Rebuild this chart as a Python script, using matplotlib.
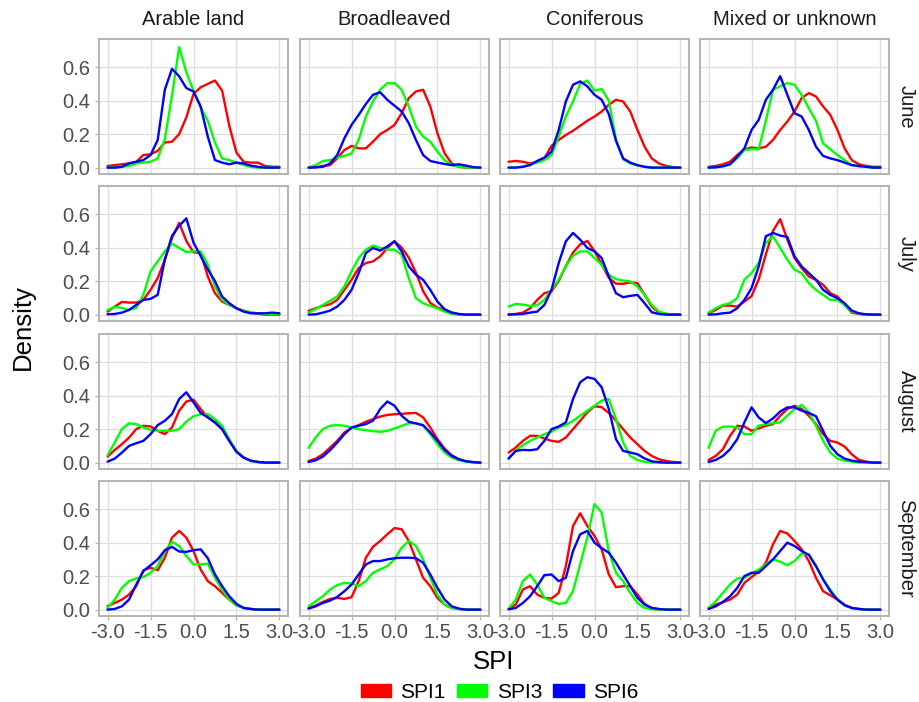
import numpy as np
import matplotlib
matplotlib.use("Agg")
import matplotlib.pyplot as plt
from matplotlib.patches import Patch

plt.rcParams['font.family'] = ['Liberation Sans', 'DejaVu Sans']

# SPI grid on which the densities were read (-3.0 .. 3.0, step 0.25)
spi_x = np.linspace(-3.0, 3.0, 25)

covers = ["Arable land", "Broadleaved", "Coniferous", "Mixed or unknown"]
months = ["June", "July", "August", "September"]
series = ["SPI1", "SPI3", "SPI6"]
colors = ["#ff0000", "#00ff00", "#0000ff"]

# each panel: [SPI1, SPI3, SPI6]
june_arable = [
    [0.01, 0.015, 0.02, 0.025, 0.035, 0.075, 0.08, 0.1, 0.15, 0.155, 0.2, 0.3, 0.44, 0.48, 0.5, 0.52, 0.46, 0.25, 0.09, 0.035, 0.03, 0.03, 0.01, 0.005, 0.005],
    [0.0, 0.002, 0.005, 0.01, 0.025, 0.03, 0.035, 0.055, 0.17, 0.43, 0.72, 0.57, 0.46, 0.36, 0.28, 0.15, 0.055, 0.045, 0.03, 0.015, 0.005, 0, 0, 0, 0],
    [0, 0, 0.005, 0.025, 0.035, 0.045, 0.075, 0.165, 0.466, 0.59, 0.545, 0.475, 0.455, 0.365, 0.185, 0.045, 0.03, 0.02, 0.03, 0.025, 0.012, 0.005, 0, 0, 0],
]
june_broad = [
    [0, 0.002, 0.01, 0.015, 0.055, 0.105, 0.13, 0.115, 0.115, 0.155, 0.2, 0.225, 0.255, 0.325, 0.415, 0.455, 0.465, 0.365, 0.205, 0.085, 0.025, 0.005, 0, 0, 0],
    [0, 0.015, 0.04, 0.045, 0.06, 0.07, 0.085, 0.165, 0.305, 0.395, 0.465, 0.505, 0.505, 0.465, 0.365, 0.245, 0.185, 0.155, 0.095, 0.045, 0.015, 0.005, 0, 0, 0],
    [0, 0.002, 0.005, 0.025, 0.075, 0.175, 0.255, 0.315, 0.38, 0.435, 0.45, 0.405, 0.37, 0.335, 0.265, 0.165, 0.075, 0.04, 0.03, 0.022, 0.015, 0.02, 0.012, 0.003, 0],
]
june_conif = [
    [0.035, 0.04, 0.035, 0.025, 0.035, 0.055, 0.13, 0.165, 0.195, 0.22, 0.25, 0.28, 0.305, 0.335, 0.375, 0.405, 0.395, 0.335, 0.225, 0.125, 0.055, 0.025, 0.01, 0.003, 0],
    [0, 0.002, 0.005, 0.02, 0.03, 0.045, 0.075, 0.185, 0.305, 0.395, 0.5, 0.52, 0.46, 0.47, 0.40, 0.17, 0.05, 0.025, 0.012, 0.005, 0, 0, 0, 0, 0],
    [0, 0, 0.005, 0.015, 0.04, 0.06, 0.095, 0.225, 0.395, 0.495, 0.515, 0.485, 0.435, 0.405, 0.32, 0.16, 0.055, 0.03, 0.015, 0.005, 0, 0, 0, 0, 0],
]
june_mixed = [
    [0.005, 0.01, 0.02, 0.035, 0.075, 0.11, 0.12, 0.115, 0.125, 0.165, 0.225, 0.275, 0.335, 0.415, 0.445, 0.425, 0.365, 0.315, 0.225, 0.115, 0.045, 0.02, 0.01, 0.005, 0.005],
    [0, 0.002, 0.01, 0.02, 0.055, 0.105, 0.11, 0.11, 0.28, 0.465, 0.485, 0.505, 0.495, 0.435, 0.355, 0.28, 0.145, 0.11, 0.075, 0.045, 0.015, 0.008, 0.005, 0, 0],
    [0, 0.002, 0.008, 0.02, 0.065, 0.115, 0.225, 0.285, 0.405, 0.465, 0.546, 0.435, 0.325, 0.305, 0.225, 0.125, 0.07, 0.055, 0.045, 0.03, 0.015, 0.01, 0.005, 0, 0],
]

july_arable = [
    [0.018, 0.048, 0.076, 0.072, 0.072, 0.088, 0.148, 0.218, 0.328, 0.458, 0.548, 0.44, 0.372, 0.368, 0.228, 0.128, 0.078, 0.058, 0.038, 0.024, 0.012, 0.005, 0, 0, 0],
    [0.028, 0.046, 0.04, 0.028, 0.04, 0.118, 0.258, 0.318, 0.378, 0.424, 0.398, 0.374, 0.378, 0.378, 0.3, 0.168, 0.088, 0.058, 0.038, 0.022, 0.014, 0.008, 0.004, 0.003, 0.003],
    [0.002, 0.004, 0.012, 0.028, 0.058, 0.088, 0.094, 0.118, 0.33, 0.47, 0.53, 0.575, 0.43, 0.35, 0.27, 0.2, 0.108, 0.068, 0.038, 0.018, 0.008, 0.008, 0.008, 0.012, 0.008],
]
july_broad = [
    [0.022, 0.038, 0.052, 0.062, 0.088, 0.148, 0.208, 0.278, 0.308, 0.318, 0.348, 0.398, 0.438, 0.4, 0.34, 0.25, 0.14, 0.07, 0.042, 0.028, 0.012, 0.002, 0, 0, 0],
    [0.012, 0.034, 0.058, 0.082, 0.108, 0.168, 0.258, 0.338, 0.388, 0.412, 0.398, 0.388, 0.388, 0.358, 0.218, 0.098, 0.068, 0.052, 0.038, 0.018, 0.004, 0, 0, 0, 0],
    [0, 0.002, 0.012, 0.024, 0.048, 0.088, 0.148, 0.248, 0.368, 0.398, 0.382, 0.408, 0.438, 0.378, 0.288, 0.238, 0.208, 0.148, 0.078, 0.032, 0.012, 0.004, 0, 0, 0],
]
july_conif = [
    [0.002, 0.004, 0.012, 0.038, 0.088, 0.128, 0.14, 0.2, 0.29, 0.37, 0.42, 0.44, 0.38, 0.3, 0.22, 0.185, 0.184, 0.192, 0.188, 0.118, 0.048, 0.012, 0.004, 0, 0],
    [0.048, 0.064, 0.06, 0.052, 0.056, 0.088, 0.148, 0.208, 0.288, 0.352, 0.378, 0.378, 0.338, 0.298, 0.238, 0.212, 0.204, 0.198, 0.168, 0.118, 0.058, 0.018, 0.006, 0, 0],
    [0, 0.002, 0.004, 0.012, 0.018, 0.058, 0.148, 0.308, 0.438, 0.488, 0.448, 0.398, 0.378, 0.338, 0.228, 0.128, 0.104, 0.112, 0.118, 0.068, 0.014, 0.004, 0, 0, 0],
]
july_mixed = [
    [0.008, 0.028, 0.054, 0.054, 0.048, 0.078, 0.11, 0.21, 0.36, 0.5, 0.57, 0.448, 0.338, 0.278, 0.228, 0.208, 0.178, 0.128, 0.108, 0.058, 0.012, 0.004, 0, 0, 0],
    [0.012, 0.038, 0.058, 0.068, 0.098, 0.208, 0.248, 0.308, 0.428, 0.468, 0.398, 0.328, 0.268, 0.248, 0.188, 0.148, 0.118, 0.088, 0.088, 0.058, 0.018, 0.006, 0, 0, 0],
    [0, 0.002, 0.008, 0.012, 0.038, 0.088, 0.158, 0.288, 0.468, 0.488, 0.472, 0.464, 0.348, 0.288, 0.248, 0.208, 0.148, 0.118, 0.098, 0.068, 0.024, 0.008, 0.002, 0, 0],
]

august_arable = [
    [0.036, 0.076, 0.11, 0.15, 0.2, 0.22, 0.216, 0.19, 0.17, 0.21, 0.31, 0.365, 0.376, 0.32, 0.27, 0.24, 0.2, 0.13, 0.07, 0.03, 0.01, 0.004, 0, 0, 0],
    [0.044, 0.12, 0.2, 0.235, 0.23, 0.21, 0.196, 0.19, 0.19, 0.19, 0.2, 0.245, 0.277, 0.289, 0.29, 0.26, 0.22, 0.14, 0.07, 0.03, 0.01, 0.004, 0, 0, 0],
    [0.006, 0.024, 0.06, 0.1, 0.116, 0.13, 0.17, 0.224, 0.25, 0.29, 0.38, 0.42, 0.36, 0.297, 0.27, 0.24, 0.2, 0.13, 0.064, 0.03, 0.012, 0.004, 0, 0, 0],
]
august_broad = [
    [0.01, 0.024, 0.05, 0.09, 0.13, 0.18, 0.206, 0.224, 0.244, 0.26, 0.275, 0.285, 0.289, 0.291, 0.295, 0.297, 0.27, 0.21, 0.14, 0.084, 0.044, 0.02, 0.008, 0.003, 0],
    [0.088, 0.15, 0.2, 0.22, 0.224, 0.22, 0.21, 0.2, 0.194, 0.188, 0.184, 0.19, 0.204, 0.22, 0.235, 0.235, 0.22, 0.17, 0.11, 0.06, 0.03, 0.014, 0.006, 0.002, 0],
    [0.004, 0.014, 0.036, 0.074, 0.12, 0.17, 0.21, 0.22, 0.23, 0.25, 0.32, 0.365, 0.34, 0.28, 0.244, 0.234, 0.224, 0.18, 0.13, 0.076, 0.04, 0.02, 0.008, 0.003, 0],
]
august_conif = [
    [0.06, 0.09, 0.13, 0.16, 0.16, 0.144, 0.13, 0.124, 0.15, 0.2, 0.25, 0.3, 0.337, 0.331, 0.297, 0.25, 0.2, 0.15, 0.11, 0.07, 0.04, 0.02, 0.01, 0.004, 0.002],
    [0.026, 0.07, 0.104, 0.13, 0.15, 0.17, 0.184, 0.21, 0.224, 0.25, 0.28, 0.31, 0.34, 0.37, 0.38, 0.26, 0.12, 0.04, 0.015, 0.005, 0, 0, 0, 0, 0],
    [0.024, 0.07, 0.076, 0.074, 0.08, 0.13, 0.2, 0.216, 0.24, 0.38, 0.48, 0.51, 0.5, 0.45, 0.32, 0.14, 0.07, 0.06, 0.05, 0.025, 0.008, 0.003, 0, 0, 0],
]
august_mixed = [
    [0.016, 0.04, 0.08, 0.16, 0.22, 0.216, 0.19, 0.204, 0.22, 0.23, 0.28, 0.32, 0.34, 0.32, 0.28, 0.23, 0.17, 0.13, 0.12, 0.096, 0.05, 0.016, 0.006, 0, 0],
    [0.088, 0.19, 0.214, 0.216, 0.21, 0.17, 0.17, 0.22, 0.23, 0.236, 0.24, 0.28, 0.32, 0.345, 0.3, 0.22, 0.13, 0.06, 0.024, 0.012, 0.006, 0, 0, 0, 0],
    [0.004, 0.016, 0.04, 0.08, 0.14, 0.24, 0.33, 0.27, 0.236, 0.264, 0.305, 0.33, 0.33, 0.31, 0.297, 0.277, 0.19, 0.1, 0.05, 0.024, 0.012, 0.006, 0.003, 0, 0],
]

september_arable = [
    [0.02, 0.04, 0.06, 0.09, 0.14, 0.235, 0.25, 0.235, 0.31, 0.43, 0.47, 0.43, 0.35, 0.24, 0.17, 0.14, 0.1, 0.06, 0.026, 0.01, 0.004, 0, 0, 0, 0],
    [0.01, 0.06, 0.13, 0.17, 0.186, 0.194, 0.22, 0.26, 0.35, 0.405, 0.38, 0.32, 0.27, 0.27, 0.275, 0.19, 0.12, 0.06, 0.026, 0.01, 0.004, 0, 0, 0, 0],
    [0, 0.004, 0.02, 0.06, 0.15, 0.23, 0.265, 0.3, 0.355, 0.375, 0.347, 0.345, 0.355, 0.36, 0.307, 0.21, 0.14, 0.08, 0.034, 0.01, 0.004, 0, 0, 0, 0],
]
september_broad = [
    [0.01, 0.024, 0.046, 0.064, 0.07, 0.064, 0.074, 0.17, 0.31, 0.375, 0.41, 0.45, 0.487, 0.48, 0.41, 0.3, 0.19, 0.14, 0.07, 0.03, 0.01, 0.004, 0, 0, 0],
    [0.02, 0.05, 0.08, 0.12, 0.146, 0.16, 0.156, 0.14, 0.17, 0.22, 0.24, 0.26, 0.3, 0.37, 0.41, 0.38, 0.3, 0.19, 0.09, 0.03, 0.01, 0.003, 0, 0, 0],
    [0.006, 0.02, 0.04, 0.054, 0.076, 0.11, 0.15, 0.21, 0.27, 0.29, 0.29, 0.3, 0.307, 0.31, 0.31, 0.307, 0.28, 0.21, 0.13, 0.06, 0.02, 0.006, 0, 0, 0],
]
september_conif = [
    [0.006, 0.03, 0.12, 0.14, 0.09, 0.07, 0.066, 0.1, 0.26, 0.5, 0.575, 0.5, 0.44, 0.36, 0.21, 0.134, 0.14, 0.14, 0.09, 0.034, 0.01, 0.002, 0, 0, 0],
    [0.004, 0.06, 0.17, 0.21, 0.15, 0.07, 0.05, 0.034, 0.04, 0.11, 0.27, 0.43, 0.63, 0.58, 0.35, 0.22, 0.17, 0.1, 0.04, 0.01, 0.002, 0, 0, 0, 0],
    [0.002, 0.01, 0.04, 0.08, 0.14, 0.206, 0.21, 0.17, 0.19, 0.35, 0.45, 0.47, 0.4, 0.367, 0.34, 0.28, 0.21, 0.14, 0.07, 0.03, 0.01, 0.004, 0, 0, 0],
]
september_mixed = [
    [0.01, 0.03, 0.044, 0.06, 0.09, 0.16, 0.194, 0.226, 0.28, 0.39, 0.47, 0.455, 0.41, 0.36, 0.29, 0.19, 0.11, 0.086, 0.06, 0.03, 0.01, 0.004, 0, 0, 0],
    [0.01, 0.05, 0.1, 0.15, 0.186, 0.19, 0.216, 0.24, 0.27, 0.3, 0.287, 0.265, 0.29, 0.335, 0.33, 0.26, 0.18, 0.12, 0.06, 0.026, 0.01, 0.004, 0, 0, 0],
    [0.004, 0.02, 0.046, 0.08, 0.13, 0.2, 0.22, 0.22, 0.26, 0.3, 0.35, 0.4, 0.38, 0.35, 0.327, 0.26, 0.18, 0.11, 0.06, 0.026, 0.01, 0.004, 0, 0, 0],
]

panels = [
    [june_arable, june_broad, june_conif, june_mixed],
    [july_arable, july_broad, july_conif, july_mixed],
    [august_arable, august_broad, august_conif, august_mixed],
    [september_arable, september_broad, september_conif, september_mixed],
]

x_ticks = [-3.0, -1.5, 0.0, 1.5, 3.0]
x_ticklabels = ["-3.0", "-1.5", "0.0", "1.5", "3.0"]
y_ticks = [0.0, 0.2, 0.4, 0.6]
y_ticklabels = ["0.0", "0.2", "0.4", "0.6"]

W, H = 919, 702
fig = plt.figure(figsize=(W / 100, H / 100), dpi=100)

col_left = [99, 300, 500, 700]
row_top = [39, 186, 334, 481]
pw, ph = 189, 135

frame_col = "#b3b3b3"
tick_col = "#4d4d4d"
fs = 14.5

for r, month in enumerate(months):
    for c, cover in enumerate(covers):
        ax = fig.add_axes([col_left[c] / W, 1 - (row_top[r] + ph) / H, pw / W, ph / H])
        for vals, col in zip(panels[r][c], colors):
            ax.plot(spi_x, vals, color=col, lw=1.7,
                    solid_capstyle="round", solid_joinstyle="round")
        ax.set_xlim(-3.3, 3.3)
        ax.set_ylim(-0.038, 0.768)
        ax.set_xticks(x_ticks)
        ax.set_yticks(y_ticks)
        ax.grid(True, color="#dedede", lw=0.9)
        ax.set_axisbelow(True)
        for sp in ax.spines.values():
            sp.set_color(frame_col)
            sp.set_linewidth(1.4)
        ax.tick_params(colors=frame_col, labelcolor=tick_col, labelsize=fs, length=3, width=0.9)
        if c == 0:
            ax.set_yticklabels(y_ticklabels)
        else:
            ax.tick_params(axis="y", length=0, labelleft=False)
        if r == 3:
            ax.set_xticklabels(x_ticklabels)
            ax.tick_params(axis="x", pad=2)
        else:
            ax.tick_params(axis="x", length=0, labelbottom=False)
        if r == 0:
            fig.text((col_left[c] + pw / 2) / W, 1 - 19.5 / H, cover,
                     ha="center", va="center", fontsize=fs, color="#1a1a1a")
    fig.text(906 / W, 1 - (row_top[r] + ph / 2) / H, month, rotation=-90,
             ha="center", va="center", fontsize=fs, color="#1a1a1a")

fig.text(23 / W, 1 - 327 / H, "Density", rotation=90, ha="center", va="center", fontsize=18.5)
fig.text(494 / W, 1 - 662 / H, "SPI", ha="center", va="center", fontsize=18.5)

handles = [Patch(facecolor=col, edgecolor=col) for col in colors]
fig.legend(handles, series, loc="center", bbox_to_anchor=(499.5 / W, 1 - 692 / H),
           ncol=3, frameon=False, fontsize=15, handlelength=1.45, handleheight=0.6,
           handletextpad=0.45, columnspacing=0.55, borderpad=0)

fig.savefig("out.png", dpi=100)
